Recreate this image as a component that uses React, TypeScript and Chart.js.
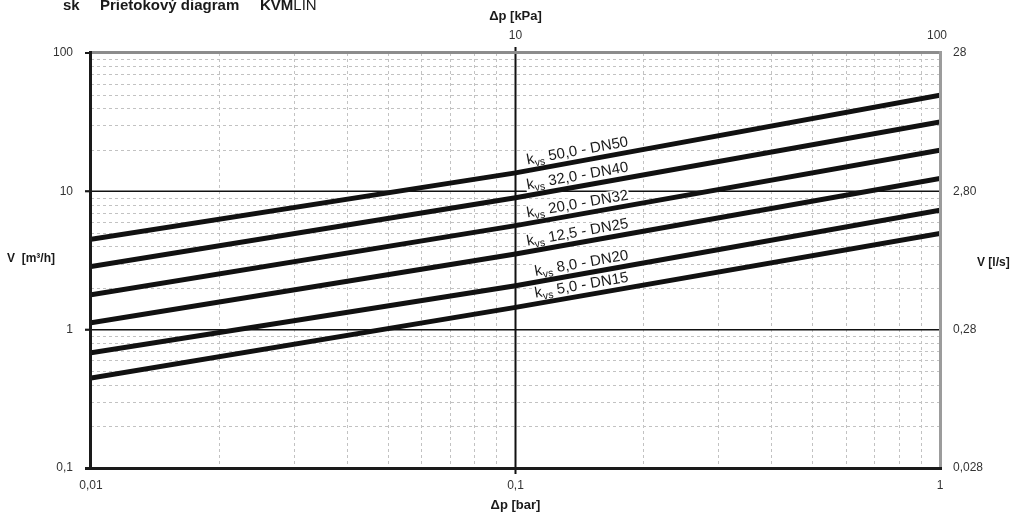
import React, { useEffect, useRef } from "react";
import { Chart, registerables } from "chart.js";

Chart.register(...registerables);

// ---- data ----
const dpBar = [0.01, 0.1, 1];
const kvs50 = [4.5, 13.6, 49.5];
const kvs32 = [2.86, 9.0, 31.7];
const kvs20 = [1.79, 5.65, 19.8];
const kvs125 = [1.12, 3.52, 12.4];
const kvs8 = [0.68, 2.08, 7.3];
const kvs5 = [0.447, 1.45, 4.95];
const seriesValues = [kvs50, kvs32, kvs20, kvs125, kvs8, kvs5];
const kvsLabels = [
  "50,0 - DN50",
  "32,0 - DN40",
  "20,0 - DN32",
  "12,5 - DN25",
  "8,0 - DN20",
  "5,0 - DN15",
];
const xTickValues = [0.01, 0.1, 1];
const xTickLabels = ["0,01", "0,1", "1"];
const yTickValues = [100, 10, 1, 0.1];
const yTickLabels = ["100", "10", "1", "0,1"];
const yRightLabels = ["28", "2,80", "0,28", "0,028"];
const topTickValues = [0.1, 1];
const topTickLabels = ["10", "100"];

const FONT = '"Liberation Sans", Arial, Helvetica, sans-serif';

function logInterp(xs: number[], ys: number[], v: number) {
  const lv = Math.log10(v);
  for (let i = 0; i < xs.length - 1; i++) {
    const a = Math.log10(xs[i]);
    const b = Math.log10(xs[i + 1]);
    if (lv >= a && lv <= b) {
      const t = (lv - a) / (b - a);
      const la = Math.log10(ys[i]);
      const lb = Math.log10(ys[i + 1]);
      return Math.pow(10, la + t * (lb - la));
    }
  }
  return ys[ys.length - 1];
}

const customPlugin = {
  id: "customDraw",
  beforeDraw(chart: any) {
    const ctx = chart.ctx;
    ctx.save();
    ctx.fillStyle = "#ffffff";
    ctx.fillRect(0, 0, chart.width, chart.height);
    ctx.restore();
  },
  beforeDatasetsDraw(chart: any) {
    const { ctx, chartArea: a, scales } = chart;
    const x = scales.x;
    const y = scales.y;
    ctx.save();
    // minor grid
    ctx.strokeStyle = "#c2c2c2";
    ctx.lineWidth = 1;
    ctx.setLineDash([3, 3]);
    for (const d of [-2, -1]) {
      for (let m = 2; m <= 9; m++) {
        const v = m * Math.pow(10, d);
        const px = Math.round(x.getPixelForValue(v)) + 0.5;
        ctx.beginPath();
        ctx.moveTo(px, a.top);
        ctx.lineTo(px, a.bottom);
        ctx.stroke();
      }
    }
    for (const d of [-1, 0, 1]) {
      for (let m = 2; m <= 9; m++) {
        const v = m * Math.pow(10, d);
        const py = Math.round(y.getPixelForValue(v)) + 0.5;
        ctx.beginPath();
        ctx.moveTo(a.left, py);
        ctx.lineTo(a.right, py);
        ctx.stroke();
      }
    }
    ctx.setLineDash([]);
    // major lines
    ctx.strokeStyle = "#111111";
    ctx.lineWidth = 1.5;
    for (const v of [10, 1]) {
      const py = y.getPixelForValue(v);
      ctx.beginPath();
      ctx.moveTo(a.left - 6, py);
      ctx.lineTo(a.right, py);
      ctx.stroke();
    }
    ctx.lineWidth = 2;
    const px01 = x.getPixelForValue(0.1);
    ctx.beginPath();
    ctx.moveTo(px01, a.top - 6);
    ctx.lineTo(px01, a.bottom + 6);
    ctx.stroke();

    // curve labels
    const mainFont = `15px ${FONT}`;
    const subFont = `10.5px ${FONT}`;
    const xr = x.getPixelForValue(0.186);
    seriesValues.forEach((vals, i) => {
      const val = logInterp(dpBar, vals, 0.186);
      const py = y.getPixelForValue(val);
      const p0x = x.getPixelForValue(dpBar[1]);
      const p1x = x.getPixelForValue(dpBar[2]);
      const p0y = y.getPixelForValue(vals[1]);
      const p1y = y.getPixelForValue(vals[2]);
      const ang = Math.atan2(p1y - p0y, p1x - p0x);
      ctx.save();
      ctx.translate(xr, py);
      ctx.rotate(ang);
      ctx.translate(0, -6);
      ctx.font = mainFont;
      const wk = ctx.measureText("k").width;
      const rest = " " + kvsLabels[i];
      const wr = ctx.measureText(rest).width;
      ctx.font = subFont;
      const wvs = ctx.measureText("vs").width;
      const total = wk + wvs + wr;
      const start = -total;
      ctx.fillStyle = "#ffffff";
      ctx.fillRect(start - 1, -11.5, total + 2, 16);
      ctx.fillStyle = "#1a1a1a";
      ctx.textBaseline = "alphabetic";
      ctx.textAlign = "left";
      ctx.font = mainFont;
      ctx.fillText("k", start, 0);
      ctx.font = subFont;
      ctx.fillText("vs", start + wk, 3);
      ctx.font = mainFont;
      ctx.fillText(rest, start + wk + wvs, 0);
      ctx.restore();
    });
    ctx.restore();
  },
  afterDatasetsDraw(chart: any) {
    const { ctx, chartArea: a, scales } = chart;
    const x = scales.x;
    const y = scales.y;
    ctx.save();
    // top border
    ctx.strokeStyle = "#8c8c8c";
    ctx.lineWidth = 3;
    ctx.beginPath();
    ctx.moveTo(a.left, a.top - 0.5);
    ctx.lineTo(a.right + 2, a.top - 0.5);
    ctx.stroke();
    // right border
    ctx.strokeStyle = "#9c9c9c";
    ctx.beginPath();
    ctx.moveTo(a.right + 0.5, a.top - 2);
    ctx.lineTo(a.right + 0.5, a.bottom);
    ctx.stroke();
    // left & bottom axes
    ctx.strokeStyle = "#1a1a1a";
    ctx.beginPath();
    ctx.moveTo(a.left - 0.5, a.top - 2);
    ctx.lineTo(a.left - 0.5, a.bottom + 2);
    ctx.stroke();
    ctx.beginPath();
    ctx.moveTo(a.left - 6, a.bottom + 0.5);
    ctx.lineTo(a.right + 2, a.bottom + 0.5);
    ctx.stroke();
    // left ticks
    ctx.lineWidth = 2;
    yTickValues.forEach((v) => {
      const py = y.getPixelForValue(v);
      ctx.beginPath();
      ctx.moveTo(a.left - 6, py);
      ctx.lineTo(a.left, py);
      ctx.stroke();
    });

    // tick labels
    ctx.fillStyle = "#333333";
    ctx.font = `12px ${FONT}`;
    ctx.textBaseline = "middle";
    ctx.textAlign = "right";
    yTickValues.forEach((v, i) => {
      ctx.fillText(yTickLabels[i], a.left - 18, y.getPixelForValue(v));
    });
    ctx.textAlign = "left";
    yTickValues.forEach((v, i) => {
      ctx.fillText(yRightLabels[i], a.right + 13, y.getPixelForValue(v));
    });
    ctx.textAlign = "center";
    xTickValues.forEach((v, i) => {
      ctx.fillText(xTickLabels[i], x.getPixelForValue(v), a.bottom + 18);
    });
    topTickValues.forEach((v, i) => {
      const px = x.getPixelForValue(v) - (i === topTickValues.length - 1 ? 3 : 0);
      ctx.fillText(topTickLabels[i], px, a.top - 17);
    });

    // axis titles
    ctx.fillStyle = "#1a1a1a";
    ctx.font = `bold 13px ${FONT}`;
    ctx.fillText("\u0394p [kPa]", x.getPixelForValue(0.1), 16);
    ctx.fillText("\u0394p [bar]", x.getPixelForValue(0.1), a.bottom + 37);
    ctx.font = `bold 12px ${FONT}`;
    ctx.textAlign = "left";
    ctx.fillText("V  [m\u00b3/h]", 7, 259);
    ctx.fillText("V [l/s]", 977, 263);

    // header
    ctx.textBaseline = "alphabetic";
    ctx.font = `bold 15px ${FONT}`;
    ctx.fillText("sk", 63, 10);
    ctx.fillText("Prietokov\u00fd diagram", 100, 10);
    ctx.fillText("KVM", 260, 10);
    const wKvm = ctx.measureText("KVM").width;
    ctx.font = `15px ${FONT}`;
    ctx.fillText("LIN", 260 + wKvm, 10);
    ctx.restore();
  },
};

export default function App() {
  const canvasRef = useRef<HTMLCanvasElement | null>(null);

  useEffect(() => {
    document.body.style.margin = "0";
    const canvas = canvasRef.current;
    if (!canvas) return;
    const chart = new Chart(canvas, {
      type: "line",
      data: {
        datasets: seriesValues.map((vals, i) => ({
          label: "kvs " + kvsLabels[i],
          data: dpBar.map((xv, j) => ({ x: xv, y: vals[j] })),
          borderColor: "#111111",
          borderWidth: 5,
          pointRadius: 0,
          fill: false,
          tension: 0,
          borderCapStyle: "butt" as const,
        })),
      },
      options: {
        animation: false,
        responsive: false,
        devicePixelRatio: 1,
        layout: { padding: { left: 91, right: 74, top: 53, bottom: 45 } },
        plugins: {
          legend: { display: false },
          tooltip: { enabled: false },
        },
        scales: {
          x: { type: "logarithmic", min: 0.01, max: 1, display: false },
          y: { type: "logarithmic", min: 0.1, max: 100, display: false },
        },
      },
      plugins: [customPlugin],
    });
    return () => chart.destroy();
  }, []);

  return (
    <div style={{ position: "absolute", left: 0, top: 0, width: 1014, height: 513 }}>
      <canvas ref={canvasRef} width={1014} height={513} style={{ display: "block", width: 1014, height: 513 }} />
    </div>
  );
}
